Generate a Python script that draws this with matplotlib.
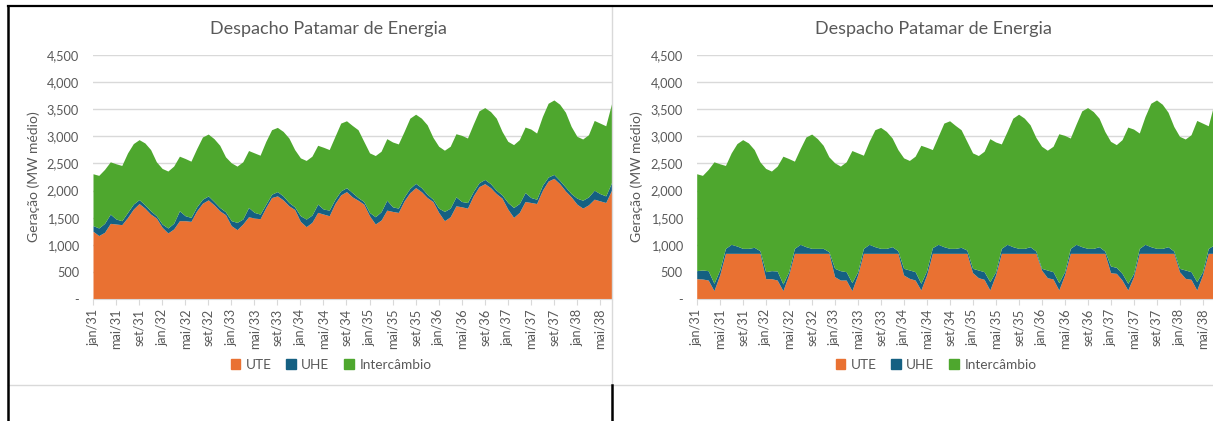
import numpy as np
import matplotlib
matplotlib.use("Agg")
import matplotlib.pyplot as plt
from matplotlib.lines import Line2D
from matplotlib.patches import Patch

# Geração mensal jan/31 .. jul/38 (MW médio)
geracao_total = [
    2310, 2280, 2390, 2530, 2494, 2463, 2695, 2866, 2939, 2878, 2756, 2530,
    2408, 2360, 2451, 2634, 2591, 2542, 2774, 2988, 3042, 2957, 2835, 2622,
    2512, 2451, 2530, 2738, 2695, 2652, 2908, 3122, 3165, 3091, 2969, 2756,
    2603, 2555, 2634, 2835, 2798, 2756, 3000, 3244, 3287, 3201, 3122, 2908,
    2695, 2646, 2725, 2957, 2896, 2860, 3091, 3335, 3408, 3335, 3213, 2982,
    2817, 2744, 2817, 3048, 3018, 2969, 3225, 3470, 3530, 3457, 3335, 3091,
    2908, 2847, 2939, 3171, 3134, 3061, 3366, 3610, 3671, 3592, 3445, 3183,
    3000, 2951, 3030, 3293, 3244, 3195, 3600,
]

# cenário da esquerda
ute_esq = [
    1250, 1170, 1230, 1395, 1383, 1371, 1505, 1658, 1761, 1676, 1566, 1493,
    1322, 1218, 1292, 1444, 1444, 1432, 1627, 1767, 1828, 1737, 1627, 1554,
    1353, 1279, 1383, 1517, 1493, 1481, 1688, 1871, 1902, 1828, 1719, 1651,
    1432, 1334, 1414, 1597, 1566, 1536, 1761, 1920, 1981, 1883, 1822, 1749,
    1535, 1383, 1456, 1639, 1615, 1597, 1810, 1962, 2054, 1981, 1871, 1798,
    1597, 1444, 1517, 1719, 1700, 1676, 1902, 2072, 2127, 2054, 1944, 1859,
    1658, 1505, 1597, 1798, 1780, 1761, 2005, 2176, 2225, 2127, 1993, 1883,
    1749, 1676, 1737, 1841, 1810, 1780, 2005,
]
uhe_esq = [
    104, 140, 165, 171, 92, 73, 92, 92, 73, 61, 61, 43,
    61, 92, 104, 183, 92, 73, 73, 73, 73, 61, 61, 55,
    92, 134, 92, 171, 104, 85, 61, 61, 79, 73, 61, 49,
    104, 140, 134, 153, 92, 104, 79, 73, 73, 79, 49, 49,
    61, 134, 153, 183, 85, 79, 73, 79, 79, 73, 61, 43,
    79, 171, 159, 165, 98, 104, 79, 73, 79, 73, 61, 61,
    122, 183, 165, 165, 92, 79, 92, 73, 73, 61, 73, 61,
    110, 146, 146, 165, 134, 122, 140,
]

# cenário da direita
ute_dir = [
    375, 369, 350, 154, 443, 842, 842, 842, 842, 842, 842, 842,
    375, 375, 350, 154, 443, 842, 842, 842, 842, 842, 842, 842,
    412, 350, 350, 154, 443, 842, 842, 842, 842, 842, 842, 842,
    443, 381, 350, 166, 443, 842, 842, 842, 842, 842, 842, 842,
    486, 393, 363, 166, 443, 842, 842, 842, 842, 842, 842, 842,
    535, 393, 369, 166, 443, 842, 842, 842, 842, 842, 842, 842,
    486, 473, 350, 166, 412, 842, 842, 842, 842, 842, 842, 842,
    504, 381, 363, 166, 443, 842, 842,
]
uhe_dir = [
    148, 166, 172, 135, 92, 92, 166, 135, 92, 92, 111, 49,
    129, 148, 166, 123, 61, 92, 166, 123, 92, 92, 92, 31,
    154, 172, 154, 148, 61, 92, 166, 123, 92, 92, 123, 49,
    123, 154, 154, 123, 80, 105, 166, 123, 92, 92, 111, 61,
    80, 141, 141, 154, 61, 92, 166, 123, 92, 92, 123, 43,
    31, 141, 135, 135, 61, 92, 166, 123, 92, 92, 123, 43,
    123, 111, 123, 123, 61, 92, 166, 123, 92, 92, 123, 43,
    61, 154, 141, 154, 61, 92, 154,
]

meses_rotulo = [
    "jan/31", "mai/31", "set/31", "jan/32", "mai/32", "set/32",
    "jan/33", "mai/33", "set/33", "jan/34", "mai/34", "set/34",
    "jan/35", "mai/35", "set/35", "jan/36", "mai/36", "set/36",
    "jan/37", "mai/37", "set/37", "jan/38", "mai/38",
]

titulo = "Despacho Patamar de Energia"
series_nomes = ["UTE", "UHE", "Intercâmbio"]
cores = ["#E97132", "#156082", "#4EA72E"]
cinza_txt = "#595959"
cinza_linha = "#D9D9D9"

plt.rcParams["font.family"] = ["Lato", "DejaVu Sans"]

W, H = 1213, 421
fig = plt.figure(figsize=(W / 100, H / 100), dpi=100)


def px_axes(x0, y0, x1, y1):
    # pixel box (top-left origin) -> axes
    return fig.add_axes([x0 / W, 1 - y1 / H, (x1 - x0) / W, (y1 - y0) / H])


def grafico(ax, ute, uhe, tit_x, leg_x):
    total = np.array(geracao_total)
    ute = np.array(ute)
    uhe = np.array(uhe)
    x = np.arange(len(total))
    ax.fill_between(x, 0, ute, color=cores[0], lw=0)
    ax.fill_between(x, ute, ute + uhe, color=cores[1], lw=0)
    ax.fill_between(x, ute + uhe, total, color=cores[2], lw=0)

    ax.set_xlim(0, len(total) - 1)
    ax.set_ylim(0, 4500)
    ax.set_yticks(range(0, 5000, 500))
    ax.set_yticklabels(["-"] + [f"{v:,}" for v in range(500, 5000, 500)])
    ax.yaxis.grid(True, color=cinza_linha, lw=1)
    ax.set_axisbelow(True)
    ax.set_xticks(range(0, len(total), 4))
    ax.set_xticklabels(meses_rotulo, rotation=90)
    for s in ["left", "right", "top"]:
        ax.spines[s].set_visible(False)
    ax.spines["bottom"].set_color(cinza_linha)
    ax.tick_params(axis="y", length=0, pad=10, labelsize=9.2, labelcolor=cinza_txt)
    ax.tick_params(axis="x", length=4, color=cinza_linha, pad=3, labelsize=9.2,
                   labelcolor=cinza_txt)
    ax.set_ylabel("Geração (MW médio)", fontsize=10, color=cinza_txt, labelpad=5)

    fig.text(tit_x / W, 1 - 29 / H, titulo, ha="center", va="center",
             fontsize=13, color=cinza_txt)
    handles = [Patch(color=c, label=n) for c, n in zip(cores, series_nomes)]
    fig.legend(handles=handles, loc="center", bbox_to_anchor=(leg_x / W, 1 - 365 / H),
               ncol=3, frameon=False, fontsize=9.8, labelcolor=cinza_txt,
               handlelength=0.7, handleheight=0.7, handletextpad=0.4,
               columnspacing=1.1)


ax1 = px_axes(93, 55, 611.5, 299)
grafico(ax1, ute_esq, uhe_esq, 328, 331)
ax2 = px_axes(696.7, 55, 1214, 299)
grafico(ax2, ute_dir, uhe_dir, 933, 936)

# moldura dos gráficos e linhas da tabela
moldura = fig.add_axes([0, 0, 1, 1], facecolor="none")
moldura.set_xlim(0, W)
moldura.set_ylim(H, 0)
moldura.axis("off")
moldura.add_line(Line2D([8, 1213], [385, 385], color=cinza_linha, lw=1))
moldura.add_line(Line2D([612, 612], [6, 385], color=cinza_linha, lw=1))
moldura.add_line(Line2D([8, 1213], [6, 6], color="black", lw=1.6))
moldura.add_line(Line2D([8, 8], [6, 421], color="black", lw=1.8))
moldura.add_line(Line2D([612, 612], [385, 421], color="black", lw=1.8))

fig.savefig("out.png", dpi=100)
